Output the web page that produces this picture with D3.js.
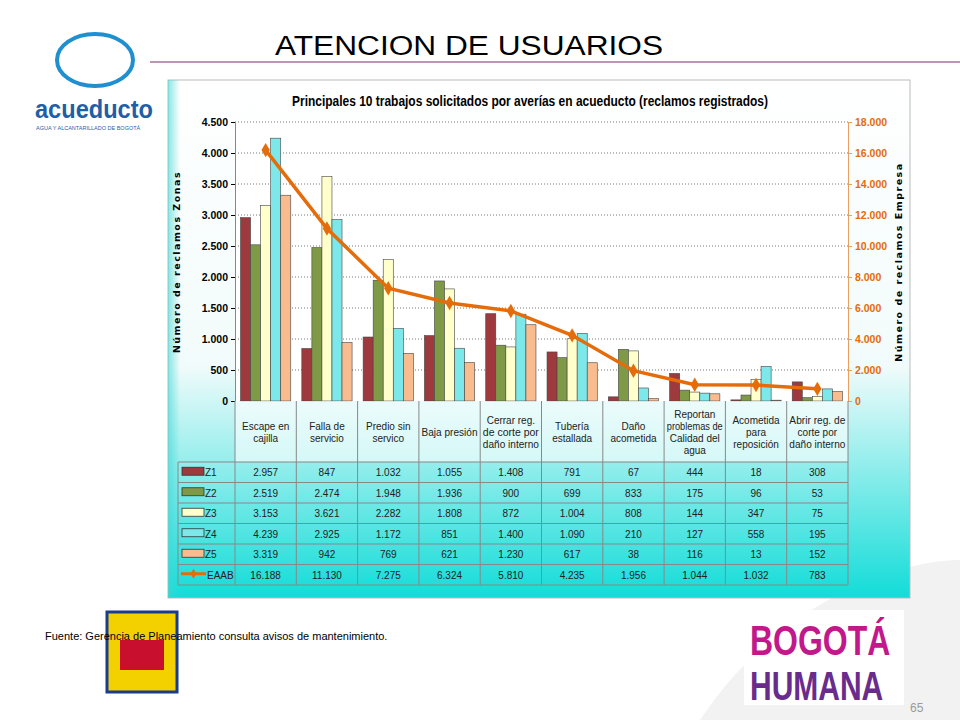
<!DOCTYPE html>
<html><head><meta charset="utf-8">
<script src="https://cdn.jsdelivr.net/npm/d3@7"></script>
<style>body{margin:0;background:#fff}svg{display:block}</style></head>
<body><svg id="c" width="960" height="720"></svg>
<script>
const categories=[["Escape en","cajilla"],["Falla de","servicio"],["Predio sin","servico"],["Baja presión"],["Cerrar reg.","de corte por","daño interno"],["Tubería","estallada"],["Daño","acometida"],["Reportan","problemas de","Calidad del","agua"],["Acometida","para","reposición"],["Abrir reg. de","corte por","daño interno"]];
const seriesNames=["Z1","Z2","Z3","Z4","Z5"];
const Z1=[2957,847,1032,1055,1408,791,67,444,18,308];
const Z2=[2519,2474,1948,1936,900,699,833,175,96,53];
const Z3=[3153,3621,2282,1808,872,1004,808,144,347,75];
const Z4=[4239,2925,1172,851,1400,1090,210,127,558,195];
const Z5=[3319,942,769,621,1230,617,38,116,13,152];
const EAAB=[16188,11130,7275,6324,5810,4235,1956,1044,1032,783];
const leftTicks=[0,500,1000,1500,2000,2500,3000,3500,4000,4500];
const rightTicks=[0,2000,4000,6000,8000,10000,12000,14000,16000,18000];
const colors=["#9E3A3E","#7F9A46","#FFFFCC","#7DE8EA","#F9BC8F"];
const lineColor="#E46C0A";
const zs=[Z1,Z2,Z3,Z4,Z5];
const fmt=v=>d3.format(",")(v).replace(/,/g,".");
const svg=d3.select("#c");
const defs=svg.append("defs");
const g1=defs.append("linearGradient").attr("id","bg").attr("x1",0).attr("y1",0).attr("x2",0).attr("y2",1);
g1.append("stop").attr("offset","0").attr("stop-color","#ffffff");
g1.append("stop").attr("offset","0.55").attr("stop-color","#f2fbfb");
g1.append("stop").attr("offset","1").attr("stop-color","#12dcd8");
const g2=defs.append("linearGradient").attr("id","side").attr("x1",0).attr("y1",0).attr("x2",1).attr("y2",0);
g2.append("stop").attr("offset","0").attr("stop-color","#3fd6d4").attr("stop-opacity",0.6);
g2.append("stop").attr("offset","1").attr("stop-color","#3fd6d4").attr("stop-opacity",0);
svg.append("path").attr("d","M700,720 C780,600 900,560 960,560 L960,720Z").attr("fill","#f2f2f2");
svg.append("line").attr("x1",150).attr("x2",960).attr("y1",62).attr("y2",62).attr("stroke","#7a2b6f").attr("stroke-width",1);
svg.append("text").attr("x",275).attr("y",55).attr("font-family","Liberation Sans, Arial").attr("font-size",27).attr("textLength",388).attr("lengthAdjust","spacingAndGlyphs").text("ATENCION DE USUARIOS");
svg.append("ellipse").attr("cx",95).attr("cy",60).attr("rx",38).attr("ry",26).attr("fill","none").attr("stroke","#1f8fd0").attr("stroke-width",4);
svg.append("text").attr("x",35).attr("y",118).attr("font-family","Liberation Sans, Arial").attr("font-weight","bold").attr("font-size",26).attr("fill","#1f5fa8").attr("textLength",118).attr("lengthAdjust","spacingAndGlyphs").text("acueducto");
svg.append("text").attr("x",36).attr("y",130).attr("font-family","Liberation Sans, Arial").attr("font-size",5.5).attr("fill","#1f5fa8").text("AGUA Y ALCANTARILLADO DE BOGOTÁ");
const bx=168,by=80,bw=742,bh=518;
svg.append("rect").attr("x",bx).attr("y",by).attr("width",bw).attr("height",bh).attr("fill","url(#bg)").attr("stroke","#bbb");
svg.append("rect").attr("x",bx).attr("y",by).attr("width",12).attr("height",bh).attr("fill","url(#side)");
svg.append("text").attr("x",292).attr("y",106).attr("font-family","Liberation Sans, Arial").attr("font-weight","bold").attr("font-size",14).attr("textLength",476).attr("lengthAdjust","spacingAndGlyphs").text("Principales 10 trabajos solicitados por averías en acueducto (reclamos registrados)");
const L=235,R=848,T=122,B=401;
const x=d3.scaleBand().domain(d3.range(10)).range([L,R]);
const xi=d3.scaleBand().domain(d3.range(5)).range([0,x.bandwidth()]).paddingInner(0).paddingOuter(0.55);
const yL=d3.scaleLinear().domain([0,4500]).range([B,T]);
const yR=d3.scaleLinear().domain([0,18000]).range([B,T]);
svg.append("rect").attr("x",L).attr("y",T).attr("width",R-L).attr("height",B-T).attr("fill","#fff");
svg.append("g").selectAll("line").data(leftTicks.slice(1)).join("line").attr("x1",L).attr("x2",R).attr("y1",d=>yL(d)).attr("y2",d=>yL(d)).attr("stroke","#777").attr("stroke-dasharray","1,2");
const la=svg.append("g").attr("transform",`translate(${L},0)`).call(d3.axisLeft(yL).tickValues(leftTicks).tickFormat(fmt).tickSize(4));
la.selectAll("text").attr("font-family","Liberation Sans, Arial").attr("font-size",10.5).attr("font-weight","bold");
la.select(".domain").attr("stroke","#888");
const ra=svg.append("g").attr("transform",`translate(${R},0)`).call(d3.axisRight(yR).tickValues(rightTicks).tickFormat(fmt).tickSize(4));
ra.selectAll("text").attr("font-family","Liberation Sans, Arial").attr("font-size",10.5).attr("fill",lineColor).attr("font-weight","bold");
ra.select(".domain").attr("stroke","#E8A060");ra.selectAll(".tick line").attr("stroke","#E8A060");
svg.append("text").attr("transform","translate(180,262) rotate(-90)").attr("text-anchor","middle").attr("font-family","DejaVu Sans").attr("font-weight","bold").attr("font-size",9.5).attr("letter-spacing",1.5).text("Número de reclamos  Zonas");
svg.append("text").attr("transform","translate(902,262) rotate(-90)").attr("text-anchor","middle").attr("font-family","DejaVu Sans").attr("font-weight","bold").attr("font-size",9.5).attr("letter-spacing",1.5).text("Número de reclamos Empresa");
zs.forEach((s,si)=>{
 svg.append("g").selectAll("rect").data(s).join("rect")
 .attr("x",(d,i)=>x(i)+xi(si)).attr("width",xi.bandwidth()).attr("y",d=>yL(d)).attr("height",d=>B-yL(d))
 .attr("fill",colors[si]).attr("stroke","#444").attr("stroke-width",0.6);
});
const line=d3.line().x((d,i)=>x(i)+x.bandwidth()/2).y(d=>yR(d));
svg.append("path").datum(EAAB).attr("d",line).attr("fill","none").attr("stroke",lineColor).attr("stroke-width",3.5);
svg.append("g").selectAll("path").data(EAAB).join("path").attr("transform",(d,i)=>`translate(${x(i)+x.bandwidth()/2},${yR(d)})`).attr("d",d3.symbol(d3.symbolDiamond,60)).attr("fill",lineColor);
const tL=178,hB=462,rh=20.5;
const tb=svg.append("g").attr("font-family","Liberation Sans, Arial").attr("font-size",10);
tb.append("rect").attr("x",L).attr("y",B).attr("width",R-L).attr("height",hB-B).attr("fill","#fff").attr("opacity",0.6);
const rowsY=d3.range(7).map(i=>hB+i*rh);
tb.append("g").selectAll("line").data(d3.range(11)).join("line").attr("x1",i=>L+i*x.step()).attr("x2",i=>L+i*x.step()).attr("y1",B).attr("y2",rowsY[6]).attr("stroke","#888");
tb.append("line").attr("x1",tL).attr("x2",tL).attr("y1",hB).attr("y2",rowsY[6]).attr("stroke","#888");
tb.append("g").selectAll("line").data(rowsY).join("line").attr("x1",tL).attr("x2",R).attr("y1",d=>d).attr("y2",d=>d).attr("stroke","#888");
categories.forEach((c,i)=>{
 const cy=(B+hB)/2-(c.length-1)*6;
 c.forEach((t,k)=>{const tx=tb.append("text").attr("x",x(i)+x.bandwidth()/2).attr("y",cy+k*12+4).attr("text-anchor","middle").attr("fill","#222").text(t);
  if(t.length>11) tx.attr("textLength",56).attr("lengthAdjust","spacingAndGlyphs");});
});
const rows=[...zs,EAAB];const names=[...seriesNames,"EAAB"];
rows.forEach((r,ri)=>{
 const yc=rowsY[ri]+rh/2+4;
 if(ri<5){tb.append("rect").attr("x",182).attr("y",yc-9).attr("width",22).attr("height",8).attr("fill",colors[ri]).attr("stroke","#333").attr("stroke-width",0.8);}
 else{tb.append("line").attr("x1",181).attr("x2",206).attr("y1",yc-5).attr("y2",yc-5).attr("stroke",lineColor).attr("stroke-width",3);
  tb.append("path").attr("transform",`translate(193.5,${yc-5})`).attr("d",d3.symbol(d3.symbolDiamond,30)).attr("fill",lineColor);}
 tb.append("text").attr("x",ri<5?205:207).attr("y",yc).attr("fill","#222").text(names[ri]);
 r.forEach((v,i)=>tb.append("text").attr("x",x(i)+x.bandwidth()/2).attr("y",yc).attr("text-anchor","middle").attr("fill","#222").text(fmt(v)));
});
svg.append("rect").attr("x",107).attr("y",612).attr("width",70).attr("height",80).attr("fill","#f3d000").attr("stroke","#1a3c8c").attr("stroke-width",3);
svg.append("rect").attr("x",120).attr("y",640).attr("width",44).attr("height",30).attr("fill","#c8102e");
svg.append("text").attr("x",45).attr("y",640).attr("font-family","Liberation Sans, Arial").attr("font-size",11).text("Fuente: Gerencia de Planeamiento  consulta avisos de mantenimiento.");
svg.append("rect").attr("x",744).attr("y",610).attr("width",160).attr("height",95).attr("fill","#fff");
svg.append("text").attr("transform","translate(750,655) scale(1,1.35)").attr("font-family","Liberation Sans, Arial").attr("font-weight","bold").attr("font-size",32).attr("fill","#c2188b").text("BOGOTÁ");
svg.append("text").attr("transform","translate(750,700) scale(1,1.35)").attr("font-family","Liberation Sans, Arial").attr("font-weight","bold").attr("font-size",30).attr("fill","#6a2c8c").text("HUMANA");
svg.append("text").attr("x",910).attr("y",712).attr("font-family","Liberation Sans, Arial").attr("font-size",12).attr("fill","#999").text("65");
</script></body></html>
